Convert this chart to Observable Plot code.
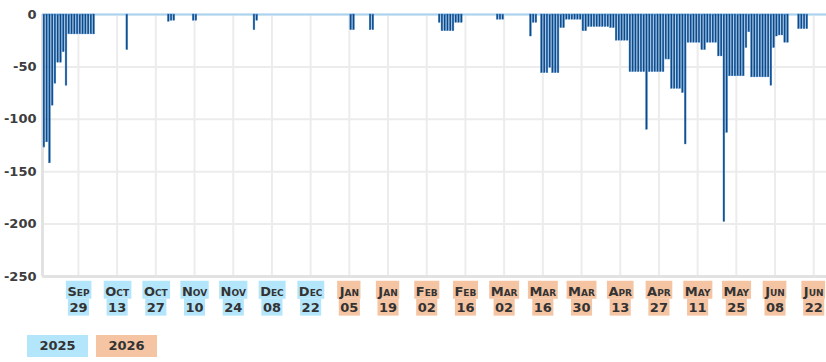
<!DOCTYPE html>
<html><head><meta charset="utf-8">
<script src="https://cdn.jsdelivr.net/npm/d3@7"></script>
<script src="https://cdn.jsdelivr.net/npm/@observablehq/plot@0.6"></script>
<style>
body{margin:0;background:#fff;font-family:"DejaVu Sans",Verdana,sans-serif;}
#chart{position:relative;width:826px;height:362px;overflow:hidden}
#legend{position:absolute;left:27px;top:335px;display:flex;gap:8px}
#legend span{display:inline-block;width:61px;height:22px;line-height:22px;text-align:center;font-weight:bold;font-size:13px;color:#333}
</style></head><body>
<div id="chart"><div id="legend"></div></div>
<script>
// first day of the daily series
const startDate = "2025-09-16";
const endDate = "2026-06-26T15:00:00Z";
// daily values, one per day from startDate
const values = [
  // Sep 16-30
  -127,-122,-142,-87,-66,-46,-46,-36,-68,-19,-19,-19,-19,-19,-19,
  // Oct
  -19,-19,-19,-19,0,0,0,0,0,0,0,0,0,0,0,-34,0,0,0,0,0,0,0,0,0,0,0,0,0,0,-7,
  // Nov
  -6,-6,0,0,0,0,0,0,-6,-6,0,0,0,0,0,0,0,0,0,0,0,0,0,0,0,0,0,0,0,0,
  // Dec
  -15,-6,0,0,0,0,0,0,0,0,0,0,0,0,0,0,0,0,0,0,0,0,0,0,0,0,0,0,0,0,0,
  // Jan
  0,0,0,0,-15,-15,0,0,0,0,0,-15,-15,0,0,0,0,0,0,0,0,0,0,0,0,0,0,0,0,0,0,
  // Feb
  0,0,0,0,0,-8,-16,-16,-16,-16,-16,-8,-8,-8,0,0,0,0,0,0,0,0,0,0,0,0,-5,-5,
  // Mar
  -5,0,0,0,0,0,0,0,0,0,-21,-8,-8,0,-56,-56,-56,-51,-56,-56,-56,-13,-13,-5,-5,-5,-5,-5,-5,-16,-16,
  // Apr
  -12,-12,-12,-12,-12,-12,-12,-12,-13,-13,-25,-25,-25,-25,-25,-55,-55,-55,-55,-55,-55,-110,-55,-55,-55,-55,-55,-55,-43,-43,
  // May
  -71,-71,-71,-71,-75,-124,-27,-27,-27,-27,-27,-34,-34,-27,-27,-27,-27,-40,-40,-198,-113,-59,-59,-59,-59,-59,-59,-32,-17,-60,-60,
  // Jun 1-26
  -60,-60,-60,-60,-60,-68,-32,-21,-20,-20,-27,-27,0,0,0,-14,-14,-14,-14,0,0,0,0,0,0,0
];
const tickDates = ["2025-09-29","2025-10-13","2025-10-27","2025-11-10","2025-11-24","2025-12-08","2025-12-22",
  "2026-01-05","2026-01-19","2026-02-02","2026-02-16","2026-03-02","2026-03-16","2026-03-30",
  "2026-04-13","2026-04-27","2026-05-11","2026-05-25","2026-06-08","2026-06-22"];
const yTicks = [0,-50,-100,-150,-200,-250];
const years = ["2025","2026"];
const yearColors = ["#b3e5fb","#f5c4a2"];

const start = new Date(startDate + "T00:00:00Z");
const data = values.map((v, i) => ({date: d3.utcDay.offset(start, i), value: v}));
const ticks = tickDates.map(s => new Date(s + "T00:00:00Z"));
const fmtMonth = d3.utcFormat("%b"), fmtDay = d3.utcFormat("%d");

const chart = Plot.plot({
  width: 826, height: 320,
  marginLeft: 42, marginRight: 0, marginTop: 14, marginBottom: 44,
  style: {fontFamily: "'DejaVu Sans', Verdana, sans-serif", background: "#fff", overflow: "visible"},
  x: {type: "utc", domain: [start, new Date(endDate)]},
  y: {domain: [-250, 0]},
  marks: [
    Plot.gridY(yTicks, {stroke: "#ececec", strokeWidth: 2, strokeOpacity: 1}),
    Plot.gridX(ticks, {stroke: "#ececec", strokeWidth: 2, strokeOpacity: 1}),
    Plot.ruleY([-250], {stroke: "#e2e2e2", strokeWidth: 3}),
    Plot.ruleX([start], {stroke: "#e2e2e2", strokeWidth: 3}),
    Plot.ruleY([0], {stroke: "#a9d3f1", strokeWidth: 2}),
    Plot.rectY(data, {x: "date", interval: "day", y: "value", fill: "#0b4a8a", stroke: "#3f7fc0", strokeWidth: 0.4}),
    Plot.axisY(yTicks, {tickSize: 0, tickPadding: 6, fontSize: 13, fontWeight: "bold", fill: "#3d3d3d", tickFormat: d => String(d), label: null}),
    Plot.axisX(ticks, {tickSize: 0, tickPadding: 8, fontSize: 13, fontWeight: "bold", fill: "#333", lineHeight: 1.22,
      fontVariant: "small-caps", tickFormat: d => fmtMonth(d) + "\n" + fmtDay(d), label: null})
  ]
});
document.getElementById("chart").prepend(chart);

// label background boxes (colour by year)
const svgNS = "http://www.w3.org/2000/svg";
const texts = chart.querySelectorAll('g[aria-label="x-axis tick label"] text');
texts.forEach((t, i) => {
  const yr = String(ticks[i].getUTCFullYear());
  const color = yearColors[years.indexOf(yr)];
  const spans = t.querySelectorAll("tspan");
  const boxes = Array.from(spans).map(s => s.getBBox());
  boxes.forEach((b, j) => {
    const r = document.createElementNS(svgNS, "rect");
    const top = j === 0 ? b.y - 3 : boxes[j - 1].y + boxes[j - 1].height;
    const bottom = j === boxes.length - 1 ? b.y + b.height + 1 : b.y + b.height;
    r.setAttribute("x", b.x - 1.5);
    r.setAttribute("width", b.width + 3);
    r.setAttribute("y", top);
    r.setAttribute("height", bottom - top);
    r.setAttribute("fill", color);
    if (t.getAttribute("transform")) r.setAttribute("transform", t.getAttribute("transform"));
    if (t.getAttribute("x")) r.setAttribute("x", +t.getAttribute("x") + b.x - 1.5);
    t.parentNode.insertBefore(r, t);
  });
});

const legend = document.getElementById("legend");
years.forEach((y, i) => {
  const s = document.createElement("span");
  s.textContent = y;
  s.style.background = yearColors[i];
  legend.appendChild(s);
});
</script>
</body></html>
